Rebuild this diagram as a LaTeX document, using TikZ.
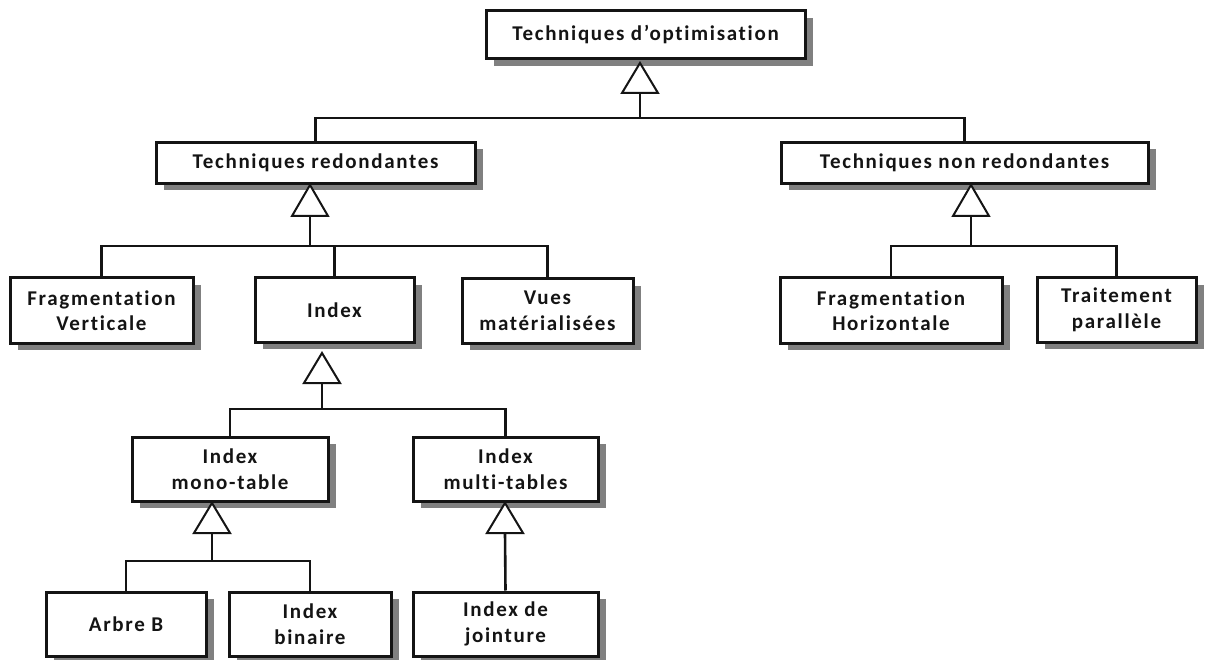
\documentclass[tikz,border=0pt]{standalone}
\usepackage{fontspec}
\setmainfont{Carlito}[LetterSpace=8, Ligatures=NoCommon]
\usetikzlibrary{shadows,calc}
\definecolor{ink}{HTML}{141414}
\definecolor{shade}{HTML}{808080}
\tikzset{
  box/.style={draw=ink, line width=3pt, fill=white, rectangle, inner sep=0pt,
    align=center, text=ink,
    font=\fontsize{21}{25.5}\selectfont\bfseries,
    drop shadow={shadow xshift=8pt, shadow yshift=-7pt, fill=shade, opacity=1}},
  conn/.style={draw=ink, line width=2.6pt},
  gen/.style={draw=ink, line width=2pt, fill=white, line join=miter},
}
\begin{document}
\begin{tikzpicture}[x=1pt, y=-1pt]
\useasboundingbox (0,0) rectangle (1210,660);

% class boxes
\node[box, minimum width=319pt, minimum height=48pt] (root) at (645.5,35) {Techniques d’optimisation};
\node[box, minimum width=319pt, minimum height=41pt] (red) at (315.5,163) {Techniques redondantes};
\node[box, minimum width=367pt, minimum height=41pt] (nonred) at (964.5,163) {Techniques non redondantes};

\node[box, minimum width=183pt, minimum height=65pt] (fv) at (101.5,310.5) {Fragmentation\\Verticale};
\node[box, minimum width=159pt, minimum height=64pt] (idx) at (334.5,310) {Index};
\node[box, minimum width=171pt, minimum height=64pt] (vues) at (547.5,311) {Vues\\matérialisées};
\node[box, minimum width=222pt, minimum height=65pt] (fh) at (891,310.5) {Fragmentation\\Horizontale};
\node[box, minimum width=159pt, minimum height=64pt] (tp) at (1116.5,310) {Traitement\\parallèle};

\node[box, minimum width=196pt, minimum height=64pt] (mono) at (230,469) {Index\\mono-table};
\node[box, minimum width=185pt, minimum height=64pt] (multi) at (505.5,469) {Index\\multi-tables};

\node[box, minimum width=160pt, minimum height=64pt] (arb) at (126,624) {Arbre B};
\node[box, minimum width=162pt, minimum height=64pt] (bin) at (310,624) {Index\\binaire};
\node[box, minimum width=185pt, minimum height=64pt] (joint) at (505.5,624) {Index de\\jointure};

% generalisation triangles: apex and base midpoint
\coordinate (a1) at (640,63);  \coordinate (b1) at (640,93);
\coordinate (a2) at (310,185); \coordinate (b2) at (310,216);
\coordinate (a3) at (971,185); \coordinate (b3) at (971,216);
\coordinate (a4) at (322,353); \coordinate (b4) at (322,383);
\coordinate (a5) at (212,503); \coordinate (b5) at (212,533);
\coordinate (a6) at (505,503); \coordinate (b6) at (505,533);

% junction points on the horizontal bars
\coordinate (j1) at (640,118);
\coordinate (j2) at (310,246);
\coordinate (j3) at (971,246);
\coordinate (j4) at (322,409);
\coordinate (j5) at (212,561);

% connectors
\draw[conn] (b1) -- (j1);
\draw[conn] (red.north) |- (j1) -| (nonred.north);
\draw[conn] (b2) -- (j2);
\draw[conn] (fv.north) |- (j2) -| (vues.north);
\draw[conn] (idx.north) -- (idx.north |- j2);
\draw[conn] (b3) -- (j3);
\draw[conn] (fh.north) |- (j3) -| (tp.north);
\draw[conn] (b4) -- (j4);
\draw[conn] (mono.north) |- (j4) -| (multi.north);
\draw[conn] (b5) -- (j5);
\draw[conn] (arb.north) |- (j5) -| (bin.north);
\draw[conn] (b6) -- (joint.north);

% triangles
\foreach \i in {1,...,6}{
  \draw[gen] (a\i) -- ($(b\i)+(-18,0)$) -- ($(b\i)+(18,0)$) -- cycle;
}
\end{tikzpicture}
\end{document}
